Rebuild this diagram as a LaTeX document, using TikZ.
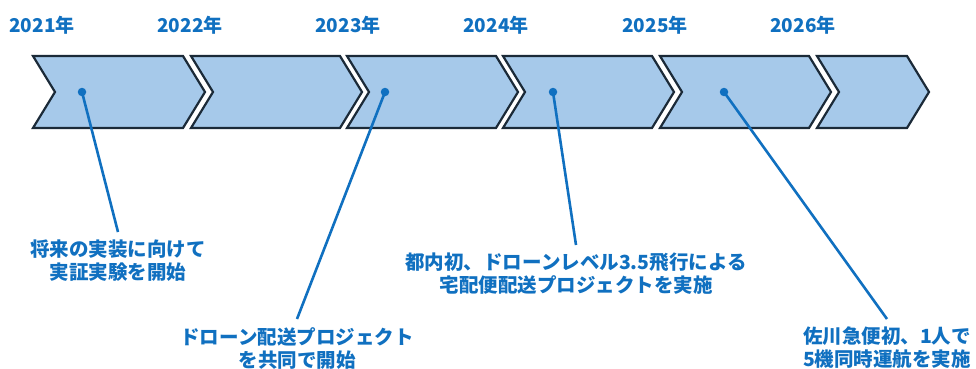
\documentclass[tikz,border=0pt]{standalone}
\usepackage{fontspec}
\newfontfamily\jp{Noto Sans CJK JP}
\definecolor{tblue}{HTML}{1070C0}
\definecolor{cfill}{HTML}{A6C9EA}
\definecolor{cedge}{HTML}{1B2A38}
\begin{document}
\begin{tikzpicture}[x=1pt,y=-1pt,
  chev/.style={fill=cfill,draw=cedge,line width=2.2pt,line join=miter},
  year/.style={text=tblue,font=\jp\bfseries\fontsize{19}{22}\selectfont,inner sep=0pt},
  note/.style={text=tblue,font=\jp\bfseries\fontsize{19.5}{23}\selectfont,align=center,inner xsep=3pt,inner ysep=8pt,anchor=north},
  dot/.style={circle,fill=tblue,inner sep=0pt,minimum size=8.5pt},
  conn/.style={draw=tblue,line width=2.6pt}]
\useasboundingbox (0,0) rectangle (976,369);
% chevrons
\foreach \l/\r in {33/183,191/340,347/496,503/652,660/809,817/907}{
  \draw[chev] (\l,56) -- (\r,56) -- (\r+22,92) -- (\r,128) -- (\l,128) -- (\l+22,92) -- cycle;
}
% years
\node[year] (y1) at (42,25) {2021年};
\node[year] (y2) at (190,25) {2022年};
\node[year] (y3) at (348,25) {2023年};
\node[year] (y4) at (496,25) {2024年};
\node[year] (y5) at (655,25) {2025年};
\node[year] (y6) at (803,25) {2026年};
% dots
\node[dot] (d1) at (82,92) {};
\node[dot] (d2) at (385,92) {};
\node[dot] (d3) at (553,92) {};
\node[dot] (d4) at (724,92) {};
% notes
\node[note] (t1) at (118,232) {将来の実装に向けて\\実証実験を開始};
\node[note] (t2) at (297,319) {ドローン配送プロジェクト\\を共同で開始};
\node[note] (t3) at (576,245) {都内初、ドローンレベル3.5飛行による\\宅配便配送プロジェクトを実施};
\node[note] (t4) at (887,319) {佐川急便初、1人で\\5機同時運航を実施};
% connectors
\draw[conn] (d1.center) -- (t1.north);
\draw[conn] (d2.center) -- (t2.north);
\draw[conn] (d3.center) -- (t3.north);
\draw[conn] (d4.center) -- (t4.north);
\end{tikzpicture}
\end{document}
